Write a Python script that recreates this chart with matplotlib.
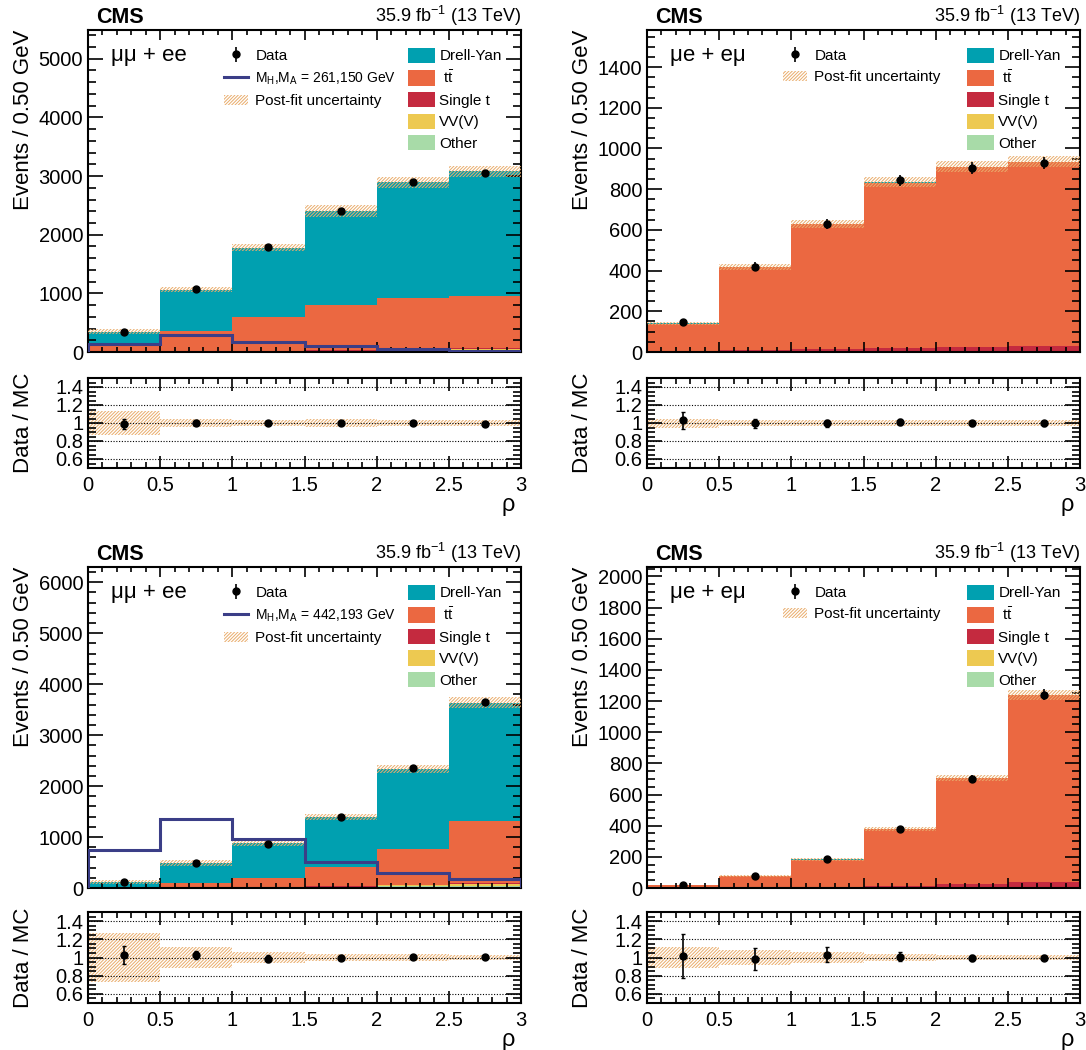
import numpy as np
import matplotlib
matplotlib.use('Agg')
import matplotlib.pyplot as plt
from matplotlib.patches import Patch
from matplotlib.lines import Line2D
from matplotlib.ticker import MultipleLocator, FuncFormatter

plt.rcParams['font.family'] = ['Liberation Sans', 'DejaVu Sans']
plt.rcParams['mathtext.fontset'] = 'custom'
plt.rcParams['mathtext.rm'] = 'Liberation Sans'
plt.rcParams['mathtext.it'] = 'Liberation Sans:italic'
plt.rcParams['mathtext.bf'] = 'Liberation Sans:bold'
plt.rcParams['hatch.linewidth'] = 0.7

# ---------------- data ----------------
edges = [0.0, 0.5, 1.0, 1.5, 2.0, 2.5, 3.0]
centers = [0.25, 0.75, 1.25, 1.75, 2.25, 2.75]

process_names = ['Other', 'VV(V)', 'Single t', r' $\mathrm{t\bar{t}}$', 'Drell-Yan']
process_colors = ['#A8DBA8', '#EDC951', '#C42A3F', '#EB6841', '#00A0B0']
legend_order = [4, 3, 2, 1, 0]

# top-left: mumu + ee, M_H,M_A = 261,150 GeV
tl_other = [2, 4, 6, 10, 14, 16]
tl_vv = [2, 4, 6, 12, 25, 32]
tl_st = [2, 5, 8, 12, 16, 18]
tl_tt = [94, 350, 570, 760, 870, 890]
tl_dy = [245, 700, 1190, 1610, 1965, 2124]
tl_data = [342, 1068, 1782, 2398, 2895, 3055]
tl_data_err = [18, 33, 42, 49, 54, 55]
tl_signal = [130, 290, 175, 100, 45, 20]
tl_unc = [0.13, 0.04, 0.035, 0.04, 0.035, 0.03]
tl_ratio_err = [0.055, 0.03, 0.024, 0.02, 0.019, 0.018]

# top-right: mue + emu
tr_other = [1, 1, 2, 2, 3, 3]
tr_vv = [0.5, 1, 1, 1.5, 2, 2]
tr_st = [2, 6, 11, 16, 21, 23]
tr_tt = [136.5, 410, 613, 812.5, 881, 904]
tr_dy = [2, 2, 3, 3, 3, 3]
tr_data = [146, 420, 627, 843, 905, 930]
tr_data_err = [12, 20, 25, 29, 30, 30]
tr_unc = [0.05, 0.035, 0.03, 0.03, 0.03, 0.03]
tr_ratio_err = [0.09, 0.05, 0.04, 0.035, 0.033, 0.032]

# bottom-left: mumu + ee, M_H,M_A = 442,193 GeV
bl_other = [2, 4, 8, 15, 30, 45]
bl_vv = [1, 4, 8, 14, 25, 40]
bl_st = [1, 3, 5, 8, 12, 15]
bl_tt = [8, 80, 170, 370, 700, 1220]
bl_dy = [108, 391, 689, 993, 1573, 2320]
bl_data = [123, 497, 870, 1395, 2364, 3650]
bl_data_err = [11, 22, 30, 37, 48, 60]
bl_signal = [750, 1350, 965, 505, 290, 185]
bl_unc = [0.27, 0.12, 0.065, 0.04, 0.035, 0.03]
bl_ratio_err = [0.1, 0.045, 0.035, 0.027, 0.02, 0.017]

# bottom-right: mue + emu
br_other = [0.3, 0.5, 1, 2, 3, 4]
br_vv = [0.2, 0.5, 1, 1, 2, 2]
br_st = [0.5, 1, 3, 10, 22, 35]
br_tt = [18.5, 75, 176, 363, 676, 1195]
br_dy = [0.5, 1, 2, 2, 3, 4]
br_data = [20.4, 77, 189, 381, 700, 1240]
br_data_err = [4.5, 9, 14, 20, 26, 35]
br_unc = [0.11, 0.08, 0.06, 0.04, 0.03, 0.025]
br_ratio_err = [0.24, 0.12, 0.08, 0.05, 0.035, 0.028]

# ---------------- style ----------------
hatch_color = '#E9AC6C'
hatch = '//////////'
signal_color = '#3B3E87'
W, H = 1086, 1050
fig = plt.figure(figsize=(W / 100, H / 100), dpi=100)


def rect(x0, x1, ytop, ybot):
    return [x0 / W, 1 - ybot / H, (x1 - x0) / W, (ybot - ytop) / H]


def style_axis(ax, ymaj, ymin, ylen, xlen):
    ax.set_xlim(0, 3)
    ax.xaxis.set_major_locator(MultipleLocator(0.5))
    ax.xaxis.set_minor_locator(MultipleLocator(0.1))
    ax.yaxis.set_major_locator(MultipleLocator(ymaj))
    ax.yaxis.set_minor_locator(MultipleLocator(ymin))
    ax.tick_params(which='both', direction='in', top=True, right=True, labelsize=14.5, width=1.2)
    ax.tick_params(axis='y', which='major', length=ylen)
    ax.tick_params(axis='y', which='minor', length=ylen / 2)
    ax.tick_params(axis='x', which='major', length=xlen)
    ax.tick_params(axis='x', which='minor', length=xlen / 2)
    for s in ax.spines.values():
        s.set_linewidth(1.5)
    fmt = FuncFormatter(lambda v, p: '%g' % v)
    ax.xaxis.set_major_formatter(fmt)
    ax.yaxis.set_major_formatter(fmt)


def panel(x0, x1, ytop, ybot, rtop, rbot, comps, data, derr, unc, rerr, ylim, ymaj, ymin,
          channel, signal=None, sig_label=None):
    ax = fig.add_axes(rect(x0, x1, ytop, ybot))
    axr = fig.add_axes(rect(x0, x1, rtop, rbot))
    bottom = np.zeros(6)
    patches = []
    for vals, name, col in zip(comps, process_names, process_colors):
        top = bottom + np.array(vals)
        ax.stairs(top, edges, baseline=bottom, fill=True, color=col, linewidth=0)
        bottom = top
        patches.append(Patch(facecolor=col, edgecolor='none', label=name))
    total = bottom
    unc = np.array(unc)
    ax.stairs(total * (1 + unc), edges, baseline=total * (1 - unc), fill=True,
              facecolor='none', edgecolor=hatch_color, hatch=hatch, linewidth=0, zorder=3)
    handles1 = []
    eb = ax.errorbar(centers, data, yerr=derr, fmt='o', color='black', ms=5, elinewidth=1.2,
                     capsize=0, zorder=5)
    handles1.append((eb, 'Data'))
    if signal is not None:
        ax.stairs(signal, edges, color=signal_color, linewidth=2.2, zorder=4)
        handles1.append((Line2D([], [], color=signal_color, lw=2.2), sig_label))
    handles1.append((Patch(facecolor='none', edgecolor=hatch_color, hatch=hatch, lw=0),
                     'Post-fit uncertainty'))
    ax.set_ylim(0, ylim)
    style_axis(ax, ymaj, ymin, 11, 7)
    ax.tick_params(labelbottom=False)
    ax.set_ylabel('Events / 0.50 GeV', fontsize=16, loc='top')
    ax.yaxis.set_label_coords(-0.125, 1.0)
    ax.text(0.018, 1.006, 'CMS', transform=ax.transAxes, fontsize=15.5, fontweight='bold',
            va='bottom', ha='left')
    ax.text(1.0, 1.006, r'35.9 fb$^{-1}$ (13 TeV)', transform=ax.transAxes, fontsize=13,
            va='bottom', ha='right')
    ax.text(0.053, 0.922, channel, transform=ax.transAxes, fontsize=16, va='center', ha='left')
    leg1 = ax.legend([h for h, l in handles1], [l for h, l in handles1], loc='upper left',
                     bbox_to_anchor=(0.314, 0.942), frameon=False, fontsize=11,
                     borderpad=0, borderaxespad=0, handlelength=1.6, handletextpad=0.45,
                     labelspacing=0.5)
    if signal is not None:
        leg1.get_texts()[1].set_fontsize(10)
    ax.add_artist(leg1)
    ax.legend([patches[i] for i in legend_order], [process_names[i] for i in legend_order],
              loc='upper left', bbox_to_anchor=(0.739, 0.945), frameon=False, fontsize=11,
              borderpad=0, borderaxespad=0, handlelength=1.75, handleheight=1.15,
              handletextpad=0.3, labelspacing=0.38)

    # ratio
    ratio = np.array(data) / total
    axr.stairs(1 + unc, edges, baseline=1 - unc, fill=True, facecolor='none',
               edgecolor=hatch_color, hatch=hatch, linewidth=0)
    for yv in [0.6, 0.8, 1.0, 1.2, 1.4]:
        axr.axhline(yv, color='black', linestyle=(0, (1, 1.5)), linewidth=0.8, zorder=1)
    axr.errorbar(centers, ratio, yerr=rerr, fmt='o', color='black', ms=5, elinewidth=1.2,
                 capsize=1.5, zorder=5)
    axr.set_ylim(0.5, 1.5)
    style_axis(axr, 0.2, 0.05, 11, 9)
    axr.set_yticks([0.6, 0.8, 1.0, 1.2, 1.4])
    axr.set_ylabel('Data / MC', fontsize=16)
    axr.yaxis.set_label_coords(-0.125, 0.5)
    axr.set_xlabel('ρ', fontsize=17, loc='right', va='center')
    axr.xaxis.set_label_coords(0.985, -0.41)
    axr.tick_params(axis='x', which='major', pad=6)
    return ax, axr


panel(88, 521, 30, 352, 378, 468,
      [tl_other, tl_vv, tl_st, tl_tt, tl_dy], tl_data, tl_data_err, tl_unc, tl_ratio_err,
      5490, 1000, 200, 'μμ + ee', tl_signal,
      r'$\mathrm{M_{H}}$,$\mathrm{M_{A}}$ = 261,150 GeV')
panel(647, 1080, 30, 352, 378, 468,
      [tr_other, tr_vv, tr_st, tr_tt, tr_dy], tr_data, tr_data_err, tr_unc, tr_ratio_err,
      1582, 200, 50, 'μe + eμ')
panel(88, 521, 567, 888, 912, 1003,
      [bl_other, bl_vv, bl_st, bl_tt, bl_dy], bl_data, bl_data_err, bl_unc, bl_ratio_err,
      6300, 1000, 200, 'μμ + ee', bl_signal,
      r'$\mathrm{M_{H}}$,$\mathrm{M_{A}}$ = 442,193 GeV')
panel(647, 1080, 567, 888, 912, 1003,
      [br_other, br_vv, br_st, br_tt, br_dy], br_data, br_data_err, br_unc, br_ratio_err,
      2060, 200, 50, 'μe + eμ')

fig.savefig('out.png', dpi=100)
